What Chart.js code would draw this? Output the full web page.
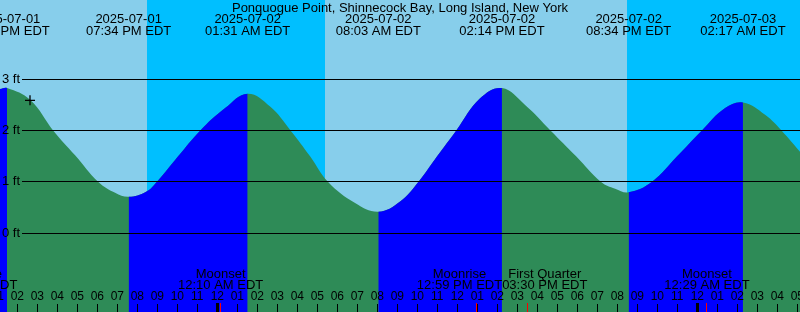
<!DOCTYPE html>
<html>
<head>
<meta charset="utf-8">
<script src="https://cdn.jsdelivr.net/npm/chart.js@4"></script>
<style>
  html, body { margin: 0; padding: 0; background: #87ceeb; }
  canvas { display: block; }
</style>
</head>
<body>
<canvas id="tideChart" width="800" height="312"></canvas>
<script>
// hours counted from 2025-07-01 00:00 EDT
const tideHours = [13.135, 13.49, 14.64, 15.80, 16.89, 18.05, 18.89, 19.567, 20.44, 20.97,
  22.04, 23.14, 24.39, 25.517, 26.64, 27.67, 28.64, 29.54, 30.89, 32.05,
  33.14, 34.05, 34.99, 35.94, 37.14, 38.233, 39.39, 40.67, 41.94, 43.19,
  43.89, 44.567, 45.72, 46.99, 48.22, 49.39, 50.283, 51.39, 52.22, 53.135];
const tideFeet = [2.81, 2.83, 2.60, 2.00, 1.52, 1.00, 0.79, 0.71, 0.81, 1.00,
  1.50, 2.00, 2.44, 2.72, 2.47, 2.00, 1.50, 1.00, 0.59, 0.42,
  0.62, 1.00, 1.50, 2.00, 2.63, 2.83, 2.50, 2.00, 1.50, 1.00,
  0.87, 0.80, 1.00, 1.50, 2.00, 2.44, 2.55, 2.31, 2.00, 1.59];

// high / low tide events shown on top
const eventHours = [13.49, 19.567, 25.517, 32.05, 38.233, 44.567, 50.283];
const eventDates = ['2025-07-01', '2025-07-01', '2025-07-02', '2025-07-02', '2025-07-02', '2025-07-02', '2025-07-03'];
const eventTimes = ['01:29 PM EDT', '07:34 PM EDT', '01:31 AM EDT', '08:03 AM EDT', '02:14 PM EDT', '08:34 PM EDT', '02:17 AM EDT'];

// sunset -> sunrise
const nightStart = [20.46, 44.46];
const nightEnd = [29.385, 53.4];

// moon events at the bottom
const moonHours = [11.9, 24.167, 36.983, 39.5, 48.483];
const moonNames = ['Moonrise', 'Moonset', 'Moonrise', 'First Quarter', 'Moonset'];
const moonTimes = ['11:54 AM EDT', '12:10 AM EDT', '12:59 PM EDT', '03:30 PM EDT', '12:29 AM EDT'];

const yTicks = [0, 1, 2, 3];
const nowMark = { t: 14.635, v: 2.59 };

const title = 'Ponquogue Point, Shinnecock Bay, Long Island, New York';

const colors = {
  day: '#87ceeb',
  night: '#00bfff',
  flood: '#0000ff',
  ebb: '#2e8b57'
};
const FONT = '"Liberation Sans", Arial, sans-serif';

const bandsPlugin = {
  id: 'bands',
  beforeDraw(chart) {
    const { ctx, chartArea: a, scales: { x } } = chart;
    ctx.save();
    ctx.fillStyle = colors.day;
    ctx.fillRect(a.left, a.top, a.width, a.height);
    ctx.fillStyle = colors.night;
    nightStart.forEach((s, i) => {
      const x0 = Math.round(x.getPixelForValue(s));
      const x1 = Math.round(x.getPixelForValue(nightEnd[i]));
      ctx.fillRect(x0, a.top, x1 - x0, a.height);
    });
    ctx.restore();
  }
};

const overlayPlugin = {
  id: 'overlay',
  afterDraw(chart) {
    const { ctx, chartArea: a, scales: { x, y } } = chart;
    ctx.save();

    // depth lines + labels
    ctx.fillStyle = '#000';
    ctx.font = '13px ' + FONT;
    ctx.textAlign = 'left';
    ctx.textBaseline = 'middle';
    yTicks.forEach(v => {
      const py = Math.floor(y.getPixelForValue(v));
      ctx.fillRect(22, py, a.right - 22, 1);
      ctx.fillText(v + ' ft', 2, py + 0.5);
    });

    // hour ticks
    ctx.font = '12px ' + FONT;
    ctx.textAlign = 'center';
    for (let h = Math.floor(x.min); h <= Math.ceil(x.max); h++) {
      const px = x.getPixelForValue(h);
      const rx = Math.floor(px);
      const hr = h % 12 === 0 ? 12 : h % 12;
      ctx.fillStyle = '#000';
      ctx.fillText(String(hr).padStart(2, '0'), px, 297);
      if (h % 24 === 0) {
        ctx.fillRect(rx - 1, 303, 3, 9);
      } else {
        ctx.fillRect(rx, 304, 1, 8);
      }
    }

    // moon events
    ctx.fillStyle = '#ff0000';
    moonHours.forEach(t => {
      const rx = Math.floor(x.getPixelForValue(t));
      ctx.fillRect(rx, 303, 1, 9);
    });

    ctx.font = '13px ' + FONT;
    const labels = moonHours.map((t, i) => ({
      x: x.getPixelForValue(t),
      w: Math.max(ctx.measureText(moonNames[i]).width, ctx.measureText(moonTimes[i]).width)
    }));
    for (let i = 1; i < labels.length; i++) {
      const p = labels[i - 1], q = labels[i];
      const need = (p.w + q.w) / 2;
      if (q.x - p.x < need) {
        const mid = (p.x + q.x) / 2;
        p.x = mid - need / 2;
        q.x = mid + need / 2;
      }
    }
    ctx.fillStyle = '#000';
    labels.forEach((l, i) => {
      ctx.fillText(moonNames[i], l.x, 274);
      ctx.fillText(moonTimes[i], l.x, 285.5);
    });

    // tide events on top
    eventHours.forEach((t, i) => {
      const px = x.getPixelForValue(t);
      ctx.fillText(eventDates[i], px, 19.5);
      ctx.fillText(eventTimes[i], px, 31.5);
    });
    ctx.fillText(title, 400, 8);

    ctx.restore();
  }
};

const tidePoints = tideHours.map((t, i) => ({ x: t, y: tideFeet[i] }));

new Chart(document.getElementById('tideChart'), {
  type: 'line',
  data: {
    datasets: [
      {
        type: 'scatter',
        data: [{ x: nowMark.t, y: nowMark.v }],
        pointStyle: 'cross',
        pointRadius: 5,
        borderColor: '#000',
        borderWidth: 1.3
      },
      {
        // rising water, drawn over the falling fill
        data: tidePoints,
        tension: 0.4,
        borderColor: 'rgba(0,0,0,0)',
        pointRadius: 0,
        backgroundColor: colors.flood,
        fill: 'start',
        segment: {
          backgroundColor: c => c.p1.parsed.y > c.p0.parsed.y ? colors.flood : 'rgba(0,0,0,0)'
        }
      },
      {
        data: tidePoints,
        tension: 0.4,
        borderColor: 'rgba(0,0,0,0)',
        pointRadius: 0,
        backgroundColor: colors.ebb,
        fill: 'start'
      }
    ]
  },
  options: {
    responsive: false,
    devicePixelRatio: 1,
    animation: false,
    layout: { padding: 0, autoPadding: false },
    plugins: { legend: { display: false }, tooltip: { enabled: false } },
    scales: {
      x: { type: 'linear', min: 13.135, max: 53.135, display: false },
      y: { min: -1.534, max: 4.546, display: false }
    }
  },
  plugins: [bandsPlugin, overlayPlugin]
});
</script>
</body>
</html>
